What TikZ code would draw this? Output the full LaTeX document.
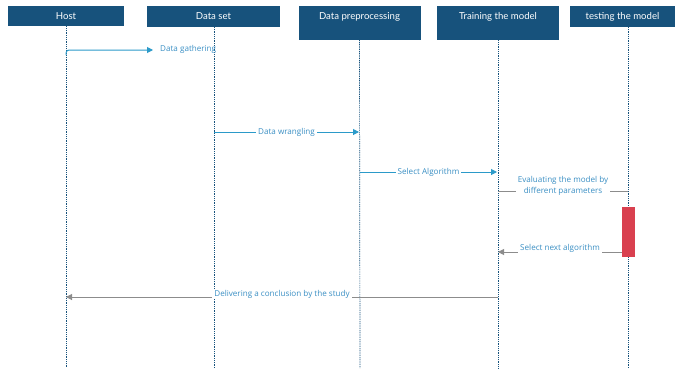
\documentclass[tikz,border=0pt]{standalone}
\usepackage{fontspec}
\setmainfont{Lato}
\newfontfamily\lblfont{Open Sans}
\usetikzlibrary{arrows.meta}
\definecolor{boxblue}{HTML}{17527C}
\definecolor{msgblue}{HTML}{2B9AC9}
\definecolor{lblblue}{HTML}{3A8FC4}
\definecolor{msggray}{HTML}{8C8C8C}
\definecolor{actred}{HTML}{D9404F}
\tikzset{
  actor/.style={draw=none, fill=boxblue, text=white, font=\fontsize{9.6}{11}\selectfont, inner sep=0pt},
  lifeline/.style={boxblue, line width=0.7pt, dash pattern=on 1pt off 0.8pt},
  bluemsg/.style={msgblue, line width=1pt, -{Triangle[length=6pt,width=6pt]}},
  graymsg/.style={msggray, line width=1pt},
  grayarrow/.style={graymsg, -{Triangle[length=6pt,width=6pt]}},
  lbl/.style={fill=white, text=lblblue, font=\lblfont\fontsize{8.1}{9.5}\selectfont, inner xsep=2pt, inner ysep=1pt},
  activation/.style={fill=actred, draw=none, minimum width=13pt, minimum height=50pt, inner sep=0pt}
}
\begin{document}
\begin{tikzpicture}[x=1pt,y=-1pt]
\useasboundingbox (0,0) rectangle (677,370);
% actors
\node[actor, minimum width=116pt, minimum height=20pt] (host) at (66,16) {Host};
\node[actor, minimum width=133pt, minimum height=21pt] (dset) at (213.5,16.5) {Data set};
\node[actor, minimum width=122pt, minimum height=34pt] (prep) at (359.5,23) {Data preprocessing\rule[-14pt]{0pt}{0pt}};
\node[actor, minimum width=122pt, minimum height=34pt] (train) at (498,23) {Training the model\rule[-14pt]{0pt}{0pt}};
\node[actor, minimum width=105pt, minimum height=21pt] (test) at (622.5,16.5) {testing the model};
% lifeline ends
\coordinate (hostE) at (66,368);
\coordinate (dsetE) at (214,368);
\coordinate (prepE) at (360,368);
\coordinate (trainE) at (498,368);
\coordinate (testS) at (628,27);
\coordinate (testE) at (628,368);
\draw[lifeline] (host.south) -- (hostE);
\draw[lifeline] (214,27) -- (dsetE);
\draw[lifeline] (prep.south) -- (prepE);
\draw[lifeline] (train.south) -- (trainE);
\draw[lifeline] (testS) -- (testE);
% message points
\coordinate (g0) at (66,55);
\coordinate (g1) at (153,50);
\coordinate (w0) at (214,132);
\coordinate (w1) at (359,132);
\coordinate (s0) at (360,172);
\coordinate (s1) at (497,172);
\coordinate (e0) at (628,191);
\coordinate (e1) at (498,191);
\coordinate (n1) at (498,252);
\coordinate (d0) at (498,297);
\coordinate (d1) at (66,297);
% activation
\node[activation] (act) at (628.5,232) {};
% messages
\draw[bluemsg, rounded corners=3pt] (g0) -- (66,50) -- (g1);
\node[anchor=west, text=lblblue, font=\lblfont\fontsize{8.1}{9.5}\selectfont, inner sep=0pt] (lg) at (160,49) {Data gathering};
\draw[bluemsg] (w0) -- (w1) node[lbl, midway] (lw) {Data wrangling};
\draw[bluemsg] (s0) -- (s1) node[lbl, midway] (ls) {Select Algorithm};
\draw[graymsg] (e0) -- (e1);
\node[lbl, align=center, font=\lblfont\fontsize{8.1}{11}\selectfont] (le) at (563,186) {Evaluating the model by\\different parameters};
\draw[grayarrow] (act.west |- n1) -- (n1);
\node[lbl] (ln) at (560,248) {Select next algorithm};
\draw[grayarrow] (d0) -- (d1);
\node[lbl] (ld) at (282,294) {Delivering a conclusion by the study};
\end{tikzpicture}
\end{document}
